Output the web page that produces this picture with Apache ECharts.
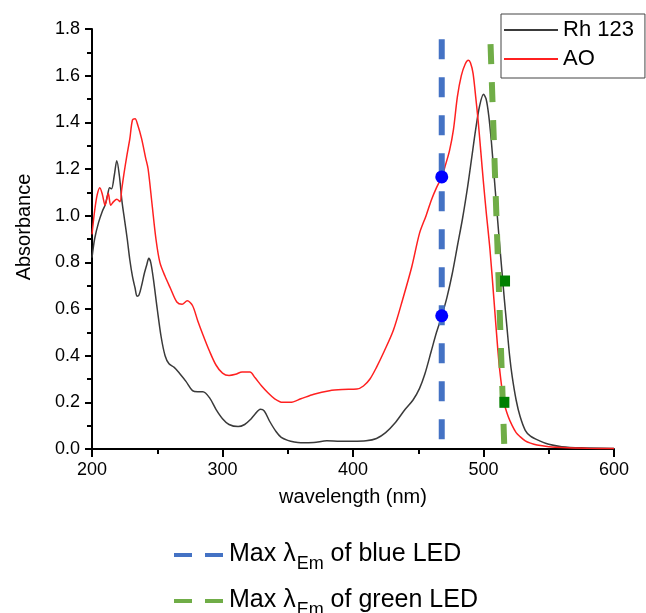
<!DOCTYPE html>
<html>
<head>
<meta charset="utf-8">
<script src="https://cdn.jsdelivr.net/npm/echarts@6/dist/echarts.min.js"></script>
<style>html,body{margin:0;padding:0;background:#fff}#c{width:646px;height:613px}</style>
</head>
<body>
<div id="c"></div>
<script>
// Rh 123 absorbance spectrum
const rhWavelength = [200,202,205,208,210,212,213.5,215,217,219,221,223,225,227,229,231,233,234.5,236,238,240,242,243.5,245,247,250,253,256,259,263,267,272,277,281,285,290,295,300,305,312,317,321,325,329,332,336,341,345,350,355,360,370,380,390,400,410,418,425,432,440,446,451,455,460,464,468,472,476,480,484,488,491,494,497,500,502,504,506,508,510,512,514,516,518,520,522,525,528,532,536,543,550,560,575,600];
const rhAbsorbance = [0.82,0.90,0.97,1.02,1.045,1.09,1.12,1.115,1.17,1.235,1.17,1.06,0.98,0.90,0.81,0.74,0.69,0.655,0.66,0.70,0.75,0.79,0.817,0.80,0.73,0.60,0.48,0.40,0.365,0.35,0.325,0.29,0.25,0.245,0.245,0.22,0.17,0.13,0.105,0.096,0.105,0.124,0.15,0.17,0.163,0.12,0.075,0.05,0.037,0.03,0.027,0.028,0.035,0.033,0.033,0.035,0.045,0.07,0.11,0.17,0.21,0.26,0.32,0.42,0.50,0.57,0.65,0.75,0.87,0.99,1.13,1.25,1.37,1.47,1.52,1.50,1.43,1.32,1.18,1.04,0.90,0.77,0.64,0.52,0.40,0.31,0.21,0.14,0.08,0.055,0.035,0.02,0.01,0.005,0.002];
// AO absorbance spectrum
const aoWavelength = [200,202,204,206,208,210,212.5,214.3,216.5,219,221.5,222.7,224.5,226.5,229,231,233,235,238,241,243,246,249,252,256,260,265,269,273,277,281,285,290,295,300,305,310,315,321,325,330,335,340,346,352,360,370,382,392,403,408,413,418,424,431,438,445,451,456,460,464,468,471,474,477,480,483,486,488.4,490,492,494,496,498,500,502,505,508,511,513,515.7,519,522,525,528,532,536,541,550,560,580,600];
const aoAbsorbance = [0.92,1.02,1.09,1.12,1.09,1.045,1.095,1.045,1.06,1.07,1.06,1.11,1.18,1.25,1.33,1.41,1.415,1.39,1.33,1.25,1.20,1.05,0.90,0.80,0.74,0.69,0.63,0.62,0.635,0.615,0.55,0.49,0.42,0.36,0.325,0.315,0.32,0.33,0.33,0.305,0.27,0.24,0.215,0.20,0.20,0.215,0.235,0.25,0.255,0.257,0.27,0.30,0.35,0.42,0.51,0.64,0.78,0.925,1.0,1.066,1.12,1.166,1.22,1.28,1.37,1.51,1.60,1.65,1.666,1.655,1.61,1.51,1.40,1.27,1.14,1.02,0.852,0.64,0.424,0.31,0.20,0.138,0.10,0.07,0.053,0.035,0.025,0.017,0.01,0.006,0.003,0.002];
// LED emission maxima (dashed guide lines)
const blueLedX = [468, 468];
const blueLedY = [1.756, 0];
const greenLedX = [505.4, 516.0];
const greenLedY = [1.735, 0];
// marked points
const blueDotX = [468, 468];
const blueDotY = [1.166, 0.571];
const greenSqX = [516.5, 516.0];
const greenSqY = [0.72, 0.20];
// axis ticks
const xTicks = [200, 300, 400, 500, 600];
const yTicks = [0.0, 0.2, 0.4, 0.6, 0.8, 1.0, 1.2, 1.4, 1.6, 1.8];

const zip = (a, b) => a.map((v, i) => [v, b[i]]);
const FONT = '"Liberation Sans", Arial, sans-serif';
const seriesNames = ['Rh 123', 'AO', 'Max λEm of blue LED', 'Max λEm of green LED'];

const ledLegend = (name, top) => ({
  data: [name],
  orient: 'horizontal', left: 172, top: top,
  padding: 0,
  itemWidth: 50, itemHeight: 14,
  itemStyle: {opacity: 0},
  lineStyle: {width: 4, type: [18, 13]},
  selectedMode: false,
  formatter: n => '{m|' + n.replace('λEm', 'λ}{s|Em}{m|') + '}',
  textStyle: {
    fontFamily: FONT, color: '#000',
    rich: {
      m: {fontSize: 25, color: '#000', fontFamily: FONT, verticalAlign: 'top', lineHeight: 26},
      s: {fontSize: 18, color: '#000', fontFamily: FONT, verticalAlign: 'top', lineHeight: 16, padding: [13, 0, 0, 1]}
    }
  }
});

const chart = echarts.init(document.getElementById('c'), null, {renderer: 'canvas'});
chart.setOption({
  animation: false,
  backgroundColor: '#fff',
  textStyle: {fontFamily: FONT},
  grid: {left: 92, right: 32, top: 29, bottom: 164, containLabel: false},
  xAxis: {
    type: 'value', min: xTicks[0], max: xTicks[xTicks.length - 1], interval: 100,
    name: 'wavelength (nm)', nameLocation: 'middle', nameGap: 38,
    nameTextStyle: {fontSize: 20, color: '#000', fontFamily: FONT},
    axisLine: {show: true, onZero: false, lineStyle: {color: '#000', width: 2}},
    axisTick: {show: true, inside: false, length: 8, lineStyle: {color: '#000', width: 2}},
    minorTick: {show: true, splitNumber: 2, length: 5, lineStyle: {color: '#000', width: 2}},
    axisLabel: {fontSize: 18, color: '#000', margin: 12, fontFamily: FONT},
    splitLine: {show: false}
  },
  yAxis: {
    type: 'value', min: yTicks[0], max: yTicks[yTicks.length - 1], interval: 0.2,
    name: 'Absorbance', nameLocation: 'middle', nameGap: 58, nameRotate: 90,
    nameTextStyle: {fontSize: 20, color: '#000', fontFamily: FONT, padding: [0, 0, 0, 24]},
    axisLine: {show: true, onZero: false, lineStyle: {color: '#000', width: 2}},
    axisTick: {show: true, inside: false, length: 7, lineStyle: {color: '#000', width: 2}},
    minorTick: {show: true, splitNumber: 2, length: 5, lineStyle: {color: '#000', width: 2}},
    axisLabel: {fontSize: 18, color: '#000', margin: 12, fontFamily: FONT,
      formatter: v => v.toFixed(1)},
    splitLine: {show: false}
  },
  legend: [
    {
      data: [seriesNames[0], seriesNames[1]],
      orient: 'vertical', left: 501, top: 14,
      padding: [5, 11, 8, 2], itemGap: 7,
      itemWidth: 54, itemHeight: 14,
      itemStyle: {opacity: 0},
      borderColor: '#444', borderWidth: 1, backgroundColor: '#fff',
      textStyle: {fontSize: 22, color: '#000', fontFamily: FONT},
      selectedMode: false
    },
    ledLegend(seriesNames[2], 542),
    ledLegend(seriesNames[3], 588)
  ],
  series: [
    {
      name: seriesNames[0], type: 'line', data: zip(rhWavelength, rhAbsorbance),
      symbol: 'none', smooth: 0.3, color: '#3a3a3a',
      lineStyle: {color: '#3a3a3a', width: 1.5}, z: 3
    },
    {
      name: seriesNames[1], type: 'line', data: zip(aoWavelength, aoAbsorbance),
      symbol: 'none', smooth: 0.3, color: '#ff2020',
      lineStyle: {color: '#ff2020', width: 1.5}, z: 3
    },
    {
      name: seriesNames[2], type: 'line', data: zip(blueLedX, blueLedY),
      symbol: 'none', color: '#4472C4',
      lineStyle: {color: '#4472C4', width: 6, type: [20, 18]}, z: 4
    },
    {
      name: seriesNames[3], type: 'line', data: zip(greenLedX, greenLedY),
      symbol: 'none', color: '#70AD47',
      lineStyle: {color: '#70AD47', width: 6, type: [20, 18]}, z: 4
    },
    {
      name: 'blueDots', type: 'scatter', data: zip(blueDotX, blueDotY),
      symbol: 'circle', symbolSize: 13, itemStyle: {color: '#0000ff', opacity: 1}, z: 5
    },
    {
      name: 'greenSquares', type: 'scatter', data: zip(greenSqX, greenSqY),
      symbol: 'rect', symbolSize: [10, 11], itemStyle: {color: '#008000', opacity: 1}, z: 5
    }
  ]
});
</script>
</body>
</html>
